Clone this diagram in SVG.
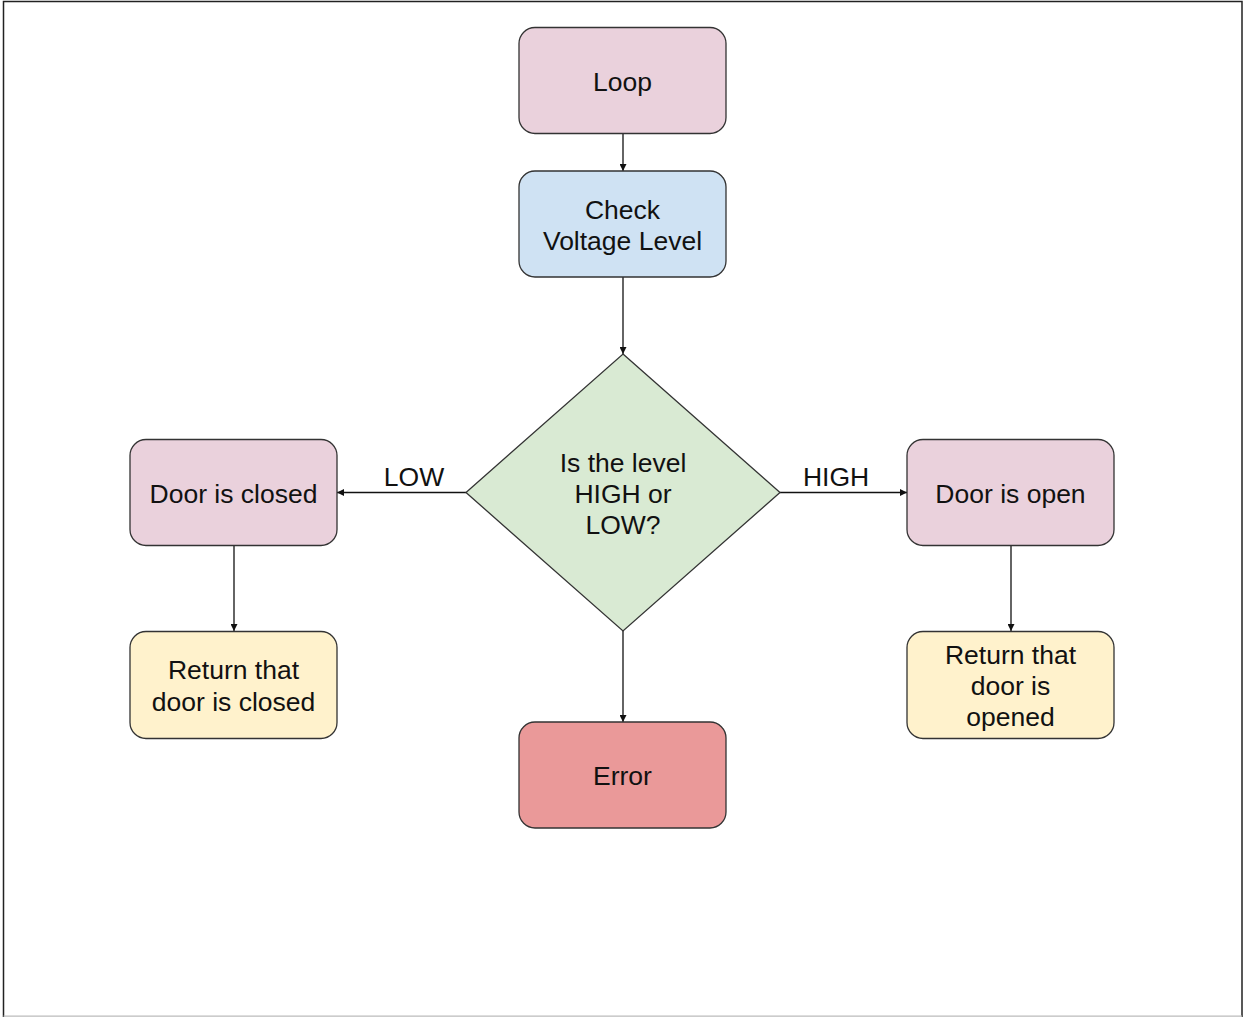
<svg xmlns="http://www.w3.org/2000/svg" width="1244" height="1017" viewBox="0 0 1244 1017">
<defs>
<style>
.n{stroke:#333;stroke-width:1.3}
.t{font-family:"Liberation Sans",Arial,sans-serif;font-size:26.5px;fill:#111;text-anchor:middle;dominant-baseline:central}
.c{stroke:#111;stroke-width:1.3;fill:none;marker-end:url(#a)}
</style>
<marker id="a" viewBox="0 0 10 10" refX="10" refY="5" markerWidth="7" markerHeight="7" markerUnits="userSpaceOnUse" orient="auto"><path d="M0,0 L10,5 L0,10 z" fill="#111"/></marker>
</defs>
<rect x="0" y="0" width="1244" height="1017" fill="#fff"/>
<path d="M3.5,1017 V1.5 H1242 V1017" fill="none" stroke="#222" stroke-width="1.5"/>
<line x1="3.5" y1="1016.2" x2="1242" y2="1016.2" stroke="#bbb" stroke-width="1.2"/>
<g id="connectors">
<line class="c" x1="623" y1="133" x2="623" y2="171"/>
<line class="c" x1="623" y1="277" x2="623" y2="354"/>
<line class="c" x1="466" y1="492.5" x2="337" y2="492.5"/>
<line class="c" x1="780" y1="492.5" x2="907" y2="492.5"/>
<line class="c" x1="623" y1="631" x2="623" y2="722"/>
<line class="c" x1="234" y1="545" x2="234" y2="631"/>
<line class="c" x1="1011" y1="545" x2="1011" y2="631"/>
<text class="t" x="414" y="477">LOW</text>
<text class="t" x="836" y="477">HIGH</text>
</g>
<g id="loop"><rect class="n" x="519" y="27.5" width="207" height="106" rx="16" fill="#ead1dc"/><text class="t" x="622.5" y="82">Loop</text></g>
<g id="check"><rect class="n" x="519" y="171" width="207" height="106" rx="16" fill="#cfe2f3"/><text class="t" x="622.5" y="210">Check</text><text class="t" x="622.5" y="241">Voltage Level</text></g>
<g id="decision"><polygon class="n" points="623,354 780,492.5 623,631 466,492.5" fill="#d9ead3"/><text class="t" x="623" y="463">Is the level</text><text class="t" x="623" y="494">HIGH or</text><text class="t" x="623" y="525">LOW?</text></g>
<g id="closed"><rect class="n" x="130" y="439.5" width="207" height="106" rx="16" fill="#ead1dc"/><text class="t" x="233.5" y="494">Door is closed</text></g>
<g id="open"><rect class="n" x="907" y="439.5" width="207" height="106" rx="16" fill="#ead1dc"/><text class="t" x="1010.5" y="494">Door is open</text></g>
<g id="retclosed"><rect class="n" x="130" y="631.5" width="207" height="107" rx="16" fill="#fff2cc"/><text class="t" x="233.5" y="670">Return that</text><text class="t" x="233.5" y="702">door is closed</text></g>
<g id="retopen"><rect class="n" x="907" y="631.5" width="207" height="107" rx="16" fill="#fff2cc"/><text class="t" x="1010.5" y="655">Return that</text><text class="t" x="1010.5" y="686">door is</text><text class="t" x="1010.5" y="717">opened</text></g>
<g id="error"><rect class="n" x="519" y="722" width="207" height="106" rx="16" fill="#ea9999"/><text class="t" x="622.5" y="776">Error</text></g>
</svg>
